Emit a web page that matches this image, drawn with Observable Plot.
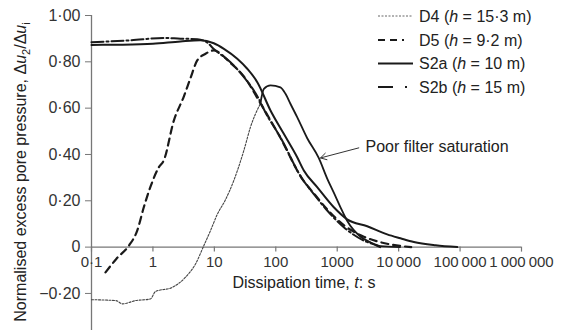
<!DOCTYPE html>
<html><head><meta charset="utf-8">
<script src="https://cdn.jsdelivr.net/npm/d3@7"></script>
<script src="https://cdn.jsdelivr.net/npm/@observablehq/plot@0.6"></script>
<style>body{margin:0;background:#fff;} svg{display:block}</style>
</head><body><div id="chart"></div>
<script>
// Tick values and labels
const xTicks = [0.1, 1, 10, 100, 1000, 10000, 100000, 1000000];
const xTickLabels = ["0·1", "1", "10", "100", "1000", "10\u2009000", "100\u2009000", "1\u2009000\u2009000"];
const yTicks = [-0.2, 0, 0.2, 0.4, 0.6, 0.8, 1.0];
const yTickLabels = ["−0·20", "0", "0·20", "0·40", "0·60", "0·80", "1·00"];

// Series: dissipation time t (s) and normalised excess pore pressure
const d4T = [0.1, 0.25, 0.32, 0.52, 0.91, 1.1, 2.06, 3.39, 4.93, 6.73, 8.65, 11.1, 15.2, 20.7, 26.6, 30.2, 38.7, 56, 64, 82, 119, 144, 173, 223, 325, 500, 690, 880, 1130, 1450, 2400, 3500, 5100, 10500];
const d4U = [-0.227, -0.231, -0.245, -0.231, -0.224, -0.192, -0.174, -0.130, -0.073, 0.006, 0.071, 0.14, 0.205, 0.287, 0.37, 0.417, 0.518, 0.619, 0.683, 0.698, 0.69, 0.662, 0.619, 0.561, 0.47, 0.385, 0.295, 0.235, 0.172, 0.114, 0.045, 0.02, 0.004, 0.0];

const d5T = [0.169, 0.255, 0.405, 0.555, 0.71, 0.91, 1.25, 1.5, 2.19, 3.18, 4.09, 5.26, 7.18, 9.8, 18.3, 30, 56, 119, 269, 416, 687, 1280, 2710, 4480, 8000, 16000];
const d5U = [-0.109, -0.05, 0.006, 0.071, 0.172, 0.26, 0.345, 0.374, 0.546, 0.65, 0.73, 0.806, 0.835, 0.849, 0.795, 0.738, 0.622, 0.472, 0.295, 0.232, 0.163, 0.095, 0.045, 0.025, 0.01, 0.0];

const s2aT = [0.1, 0.3, 1, 2.8, 5.9, 9.8, 14.3, 23.6, 34.3, 50, 82, 135, 223, 286, 472, 880, 1450, 3080, 6510, 10700, 17700, 40000, 90000];
const s2aU = [0.873, 0.874, 0.878, 0.888, 0.893, 0.880, 0.856, 0.813, 0.77, 0.712, 0.59, 0.489, 0.388, 0.331, 0.259, 0.172, 0.12, 0.09, 0.055, 0.038, 0.022, 0.008, 0.0];

const s2bT = [0.1, 0.43, 1.5, 2.8, 5.3, 7.5, 9.8, 18.3, 30.1, 56.4, 64, 119, 269, 416, 687, 1280, 2710, 4480, 5000];
const s2bU = [0.885, 0.893, 0.903, 0.900, 0.898, 0.885, 0.855, 0.798, 0.735, 0.626, 0.595, 0.474, 0.295, 0.229, 0.158, 0.086, 0.028, 0.006, 0.0];

// Annotation
const noteText = ["Poor filter saturation"];
const noteAt = [2884, 0.431];
const arrowFrom = [2244, 0.4285];
const arrowTo = [535, 0.385];

const rows = (T, U) => T.map((t, i) => ({t, u: U[i]}));
const d4 = rows(d4T, d4U), d5 = rows(d5T, d5U), s2a = rows(s2aT, s2aU), s2b = rows(s2bT, s2bU);
const ink = "#1a1a1a", axisGray = "#777";

const svg = Plot.plot({
  width: 565, height: 330,
  marginLeft: 91, marginRight: 44, marginTop: 15, marginBottom: 0,
  style: {fontFamily: "'Liberation Sans', Arial, sans-serif", fontSize: "16px", color: "#333", background: "#fff", overflow: "visible"},
  x: {type: "log", domain: [0.1, 1e6], axis: null},
  y: {domain: [-0.36, 1.0]},
  marks: [
    Plot.ruleY([0], {stroke: axisGray, strokeWidth: 1.3}),
    Plot.ruleX([0.1], {stroke: axisGray, strokeWidth: 1.3}),
    Plot.axisY({ticks: yTicks, tickFormat: d => yTickLabels[yTicks.indexOf(d)], tickSize: 6, tickPadding: 5, stroke: axisGray, fill: "#333", label: null, fontSize: 16}),
    Plot.ruleX(xTicks, {x: d => d, y1: 0, y2: 0, insetBottom: -5, stroke: axisGray, strokeWidth: 1.2}),
    Plot.text(xTicks, {x: d => d, y: 0, text: (d, i) => xTickLabels[i], dy: 15, fontSize: 15, fill: "#333"}),
    Plot.line(d4.filter(d => d.t <= 56), {x: "t", y: "u", stroke: "#444", strokeWidth: 1.1, strokeDasharray: "2,1.5", curve: "monotone-x"}),
    Plot.line(d4.filter(d => d.t >= 56), {x: "t", y: "u", stroke: ink, strokeWidth: 1.8, curve: "monotone-x"}),
    Plot.line(d5, {x: "t", y: "u", stroke: ink, strokeWidth: 2.2, strokeDasharray: "7,5", curve: "monotone-x"}),
    Plot.line(s2a, {x: "t", y: "u", stroke: ink, strokeWidth: 2, curve: "monotone-x"}),
    Plot.line(s2b, {x: "t", y: "u", stroke: ink, strokeWidth: 2, strokeDasharray: "12,3,2,3", curve: "monotone-x"}),
    Plot.arrow([0], {x1: () => arrowFrom[0], y1: () => arrowFrom[1], x2: () => arrowTo[0], y2: () => arrowTo[1], stroke: "#333", strokeWidth: 1, headLength: 10, bend: 0}),
    Plot.text(noteText, {x: () => noteAt[0], y: () => noteAt[1], text: d => d, textAnchor: "start", fontSize: 16, fill: "#222"})
  ]
});

const s = d3.select(svg);
// X axis title
const xt = s.append("text").attr("x", 304).attr("y", 282).attr("text-anchor", "middle").attr("dy", "0.35em").attr("fill", "#222").attr("font-size", 16);
xt.append("tspan").text("Dissipation time, ");
xt.append("tspan").attr("font-style", "italic").text("t");
xt.append("tspan").text(": s");

// Y axis title
const yt = s.append("text").attr("transform", "translate(20,172) rotate(-90)").attr("text-anchor", "middle").attr("dy", "0.35em").attr("fill", "#222").attr("font-size", 16);
yt.append("tspan").text("Normalised excess pore pressure, Δ");
yt.append("tspan").attr("font-style", "italic").text("u");
yt.append("tspan").attr("font-size", 11).attr("dy", "4").text("2");
yt.append("tspan").attr("dy", "-4").text("/Δ");
yt.append("tspan").attr("font-style", "italic").text("u");
yt.append("tspan").attr("font-size", 11).attr("dy", "4").text("i");

// Legend
const legendItems = [
  {name: "D4", h: "15·3", stroke: "#666", w: 1, dash: "2,1.5"},
  {name: "D5", h: "9·2", stroke: ink, w: 2.2, dash: "7,5,7,5,2,10"},
  {name: "S2a", h: "10", stroke: ink, w: 2.2, dash: null},
  {name: "S2b", h: "15", stroke: ink, w: 2.2, dash: "15,12,2,20"}
];
const rowY = [16, 40, 63.5, 87];
legendItems.forEach((it, i) => {
  const g = s.append("g").attr("transform", `translate(0,${rowY[i]})`);
  g.append("line").attr("x1", 378).attr("x2", 413).attr("y1", 0).attr("y2", 0)
    .attr("stroke", it.stroke).attr("stroke-width", it.w).attr("stroke-dasharray", it.dash);
  const t = g.append("text").attr("x", 419).attr("text-anchor", "start").attr("dy", "0.35em").attr("fill", "#222").attr("font-size", 16);
  t.append("tspan").text(`${it.name} (`);
  t.append("tspan").attr("font-style", "italic").text("h");
  t.append("tspan").text(` = ${it.h} m)`);
});

document.getElementById("chart").appendChild(svg);
</script>
</body></html>
